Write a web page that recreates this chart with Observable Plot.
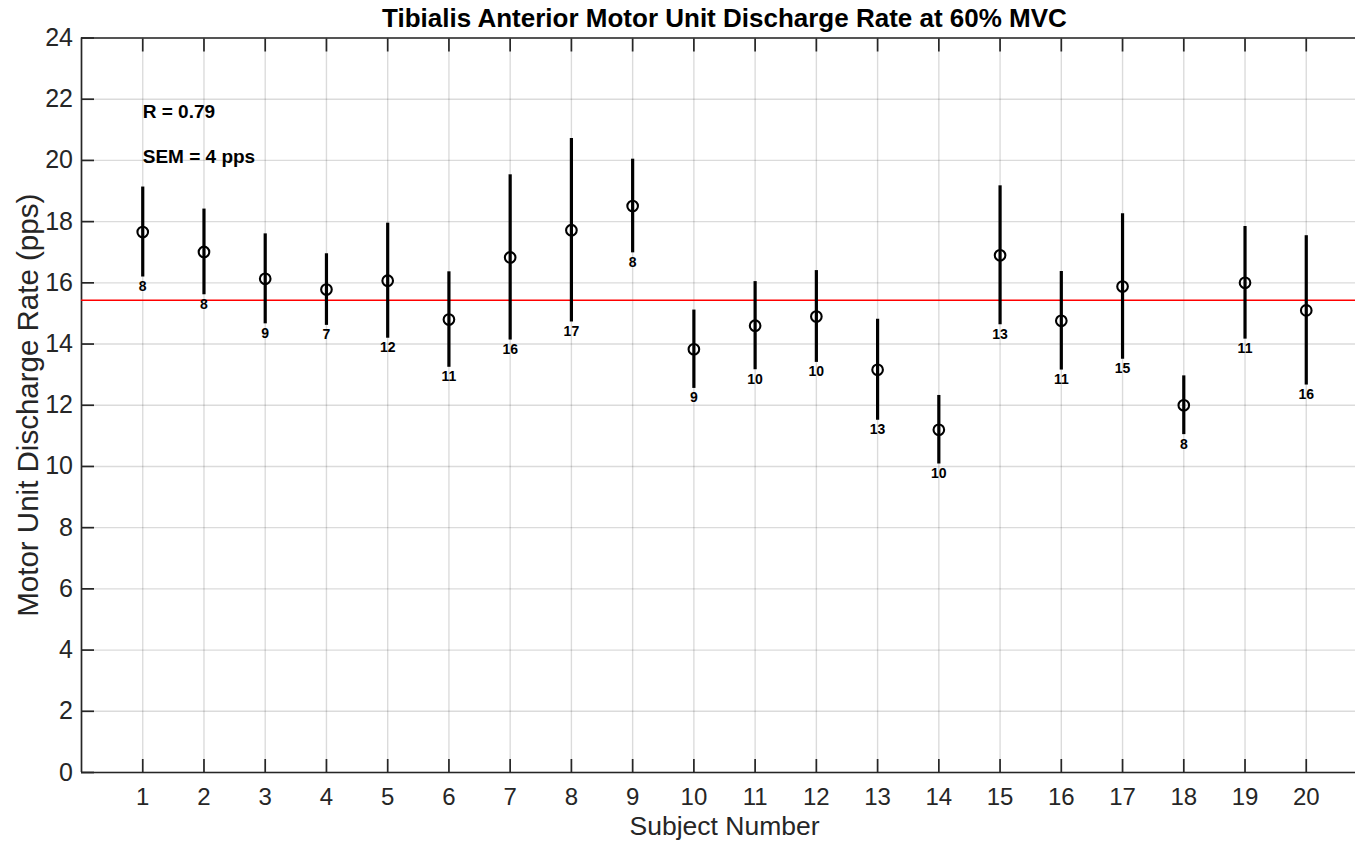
<!DOCTYPE html>
<html><head><meta charset="utf-8">
<script src="https://cdn.jsdelivr.net/npm/d3@7"></script>
<script src="https://cdn.jsdelivr.net/npm/@observablehq/plot@0.6"></script>
<style>
html,body{margin:0;padding:0;overflow:hidden;background:#fff;}
svg{display:block;max-width:none !important;}
</style></head><body><div id="chart"></div>
<script>
// ---- data ----
const subjects = [1,2,3,4,5,6,7,8,9,10,11,12,13,14,15,16,17,18,19,20];
const meanRate = [17.66,17.01,16.13,15.78,16.07,14.80,16.83,17.72,18.51,13.83,14.60,14.90,13.16,11.20,16.90,14.76,15.88,12.00,16.00,15.10];
const sdRate   = [1.47,1.40,1.47,1.17,1.88,1.56,2.70,3.00,1.53,1.28,1.44,1.50,1.65,1.12,2.27,1.61,2.38,0.96,1.84,2.44];
const unitCount = [8,8,9,7,12,11,16,17,8,9,10,10,13,10,13,11,15,8,11,16];
const grandMean = 15.43;
const xTicks = [1,2,3,4,5,6,7,8,9,10,11,12,13,14,15,16,17,18,19,20];
const yTicks = [0,2,4,6,8,10,12,14,16,18,20,22,24];
const annotationX = [1, 1];
const annotationY = [21.6, 20.1];
const annotationText = ["R = 0.79", "SEM = 4 pps"];
const titleText = "Tibialis Anterior Motor Unit Discharge Rate at 60% MVC";
const xLabel = "Subject Number";
const yLabel = "Motor Unit Discharge Rate (pps)";

const rows = subjects.map((s, i) => ({subject: s, mean: meanRate[i], sd: sdRate[i], n: unitCount[i]}));
const notes = annotationText.map((t, i) => ({x: annotationX[i], y: annotationY[i], text: t}));

const FONT = "'Liberation Sans', Arial, Helvetica, sans-serif";
const INK = "#262626";

const chart = Plot.plot({
  width: 1367, height: 843,
  marginLeft: 81, marginRight: 0, marginTop: 37.5, marginBottom: 71,
  style: {fontFamily: FONT, background: "#fff", color: INK, overflow: "visible", maxWidth: "none"},
  x: {domain: [0, 21]},
  y: {domain: [0, 24]},
  marks: [
    Plot.gridX(xTicks, {stroke: "#000", strokeOpacity: 0.14, strokeWidth: 1.4}),
    Plot.gridY(yTicks, {stroke: "#000", strokeOpacity: 0.14, strokeWidth: 1.4}),
    Plot.ruleY([0, 24], {stroke: INK, strokeWidth: 1.7}),
    Plot.ruleX([0, 21], {stroke: INK, strokeWidth: 1.7}),
    Plot.axisX(xTicks, {anchor: "bottom", tickSize: -13, tickPadding: 28, fontSize: 24, color: INK, strokeWidth: 1.7, label: null}),
    Plot.axisX(xTicks, {anchor: "top", tickSize: -13, fill: "none", color: INK, strokeWidth: 1.7, label: null}),
    Plot.axisY(yTicks, {anchor: "left", tickSize: -13, tickPadding: 21.5, fontSize: 25, color: INK, strokeWidth: 1.7, label: null}),
    Plot.ruleY([grandMean], {stroke: "#ff0000", strokeWidth: 1.6}),
    Plot.ruleX(rows, {x: "subject", y1: d => d.mean - d.sd, y2: d => d.mean + d.sd, stroke: "#000", strokeWidth: 3.2}),
    Plot.dot(rows, {x: "subject", y: "mean", r: 5.3, stroke: "#000", strokeWidth: 2.1, fill: "none"}),
    Plot.text(rows, {x: "subject", y: d => d.mean - d.sd, text: d => String(d.n), lineAnchor: "top", dy: 4, fontSize: 14, fontWeight: "bold", fill: "#000"}),
    Plot.text(notes, {x: "x", y: "y", text: "text", textAnchor: "start", fontSize: 19, fontWeight: "bold", fill: "#000"}),
    Plot.text([titleText], {text: d => d, frameAnchor: "top", lineAnchor: "middle", textAnchor: "middle", dy: -19, fontSize: 26, fontWeight: "bold", fill: "#000"}),
    Plot.text([xLabel], {text: d => d, frameAnchor: "bottom", lineAnchor: "middle", textAnchor: "middle", dy: 54, fontSize: 26.5, fill: INK}),
    Plot.text([yLabel], {text: d => d, frameAnchor: "left", lineAnchor: "middle", textAnchor: "middle", dx: -53, rotate: -90, fontSize: 29.5, fill: INK})
  ]
});
document.getElementById("chart").appendChild(chart);
</script>
</body></html>
